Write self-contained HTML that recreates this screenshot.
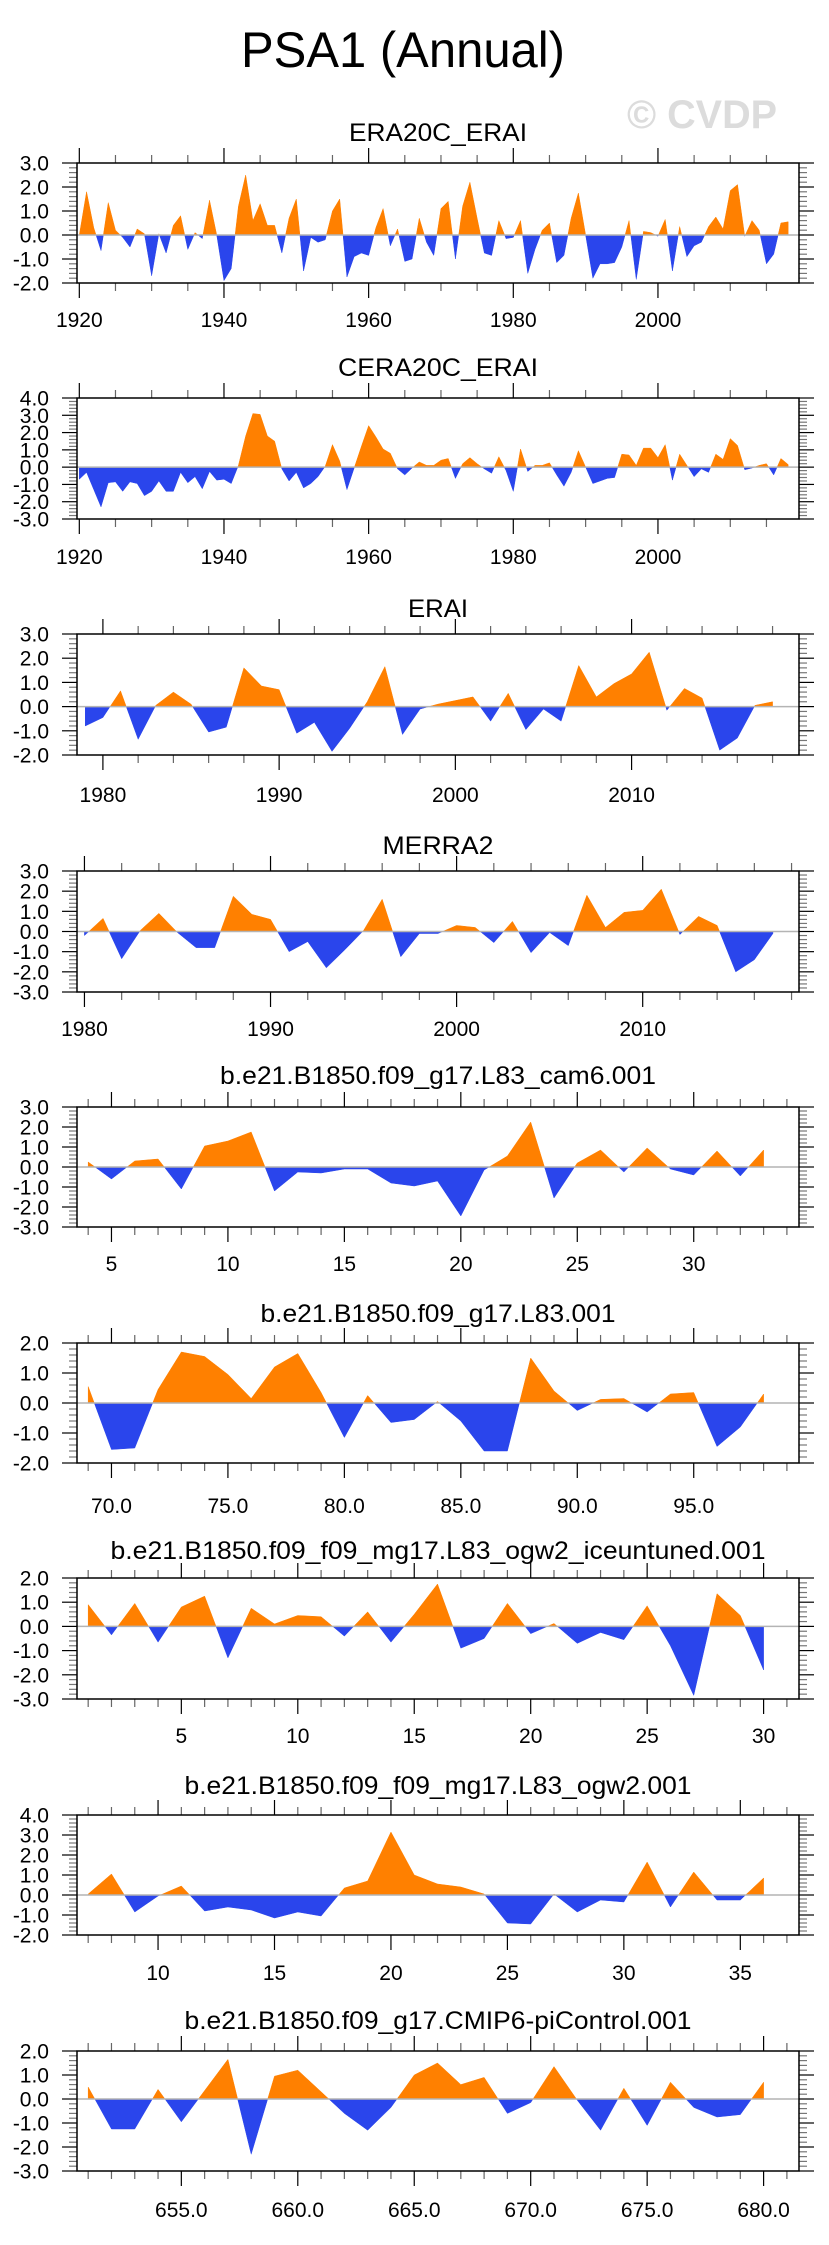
<!DOCTYPE html>
<html><head><meta charset="utf-8"><title>PSA1 (Annual)</title>
<style>
html,body{margin:0;padding:0;background:#fff;}
svg{display:block;font-family:"Liberation Sans",Arial,sans-serif;}
</style></head>
<body>
<svg id="fig" width="829" height="2245" viewBox="0 0 829 2245" xmlns="http://www.w3.org/2000/svg">
<text x="403" y="67" font-size="50" text-anchor="middle" textLength="324" lengthAdjust="spacingAndGlyphs" fill="#000">PSA1 (Annual)</text>
<text x="702" y="128" font-size="40" font-weight="bold" text-anchor="middle" textLength="150" lengthAdjust="spacingAndGlyphs" fill="#dcdcdc">© CVDP</text>
</svg>
<script>
// ---- data arrays ----
const era20cYears = [1920, 2018];
const era20cValues = [0.0,1.8,0.3,-0.65,1.35,0.2,-0.1,-0.5,0.25,0.05,-1.7,0.05,-0.75,0.4,0.8,-0.6,0.1,-0.15,1.45,0.0,-1.9,-1.4,1.2,2.5,0.6,1.3,0.4,0.4,-0.75,0.7,1.5,-1.5,-0.1,-0.3,-0.2,1.0,1.5,-1.75,-0.9,-0.75,-0.85,0.3,1.1,-0.45,0.25,-1.1,-1.0,0.7,-0.3,-0.85,1.1,1.4,-1.0,1.2,2.2,0.7,-0.75,-0.85,0.6,-0.15,-0.1,0.6,-1.6,-0.6,0.2,0.5,-1.15,-0.85,0.7,1.75,0.0,-1.8,-1.2,-1.2,-1.15,-0.5,0.6,-1.85,0.15,0.1,-0.05,0.65,-1.5,0.35,-0.9,-0.45,-0.3,0.35,0.75,0.25,1.85,2.1,-0.05,0.6,0.2,-1.2,-0.8,0.5,0.55];
const cera20cYears = [1920, 2018];
const cera20cValues = [-0.7,-0.3,-1.3,-2.3,-0.9,-0.85,-1.4,-0.85,-0.95,-1.65,-1.4,-0.8,-1.4,-1.4,-0.3,-0.9,-0.55,-1.25,-0.25,-0.75,-0.7,-0.95,0.1,1.8,3.1,3.05,1.8,1.5,-0.1,-0.8,-0.3,-1.2,-0.95,-0.55,0.05,1.3,0.35,-1.3,-0.05,1.2,2.4,1.75,1.05,0.8,-0.1,-0.45,-0.05,0.3,0.1,0.1,0.4,0.5,-0.65,0.2,0.55,0.2,-0.1,-0.35,0.6,-0.2,-1.4,1.05,-0.25,0.1,0.1,0.25,-0.45,-1.1,-0.3,0.95,0.0,-0.95,-0.8,-0.65,-0.6,0.75,0.7,0.1,1.1,1.1,0.55,1.3,-0.75,0.75,0.1,-0.55,-0.1,-0.3,0.75,0.45,1.65,1.25,-0.15,-0.05,0.1,0.2,-0.45,0.5,0.15];
const eraiYears = [1979, 2018];
const eraiValues = [-0.8,-0.45,0.65,-1.35,0.05,0.6,0.1,-1.05,-0.85,1.6,0.85,0.7,-1.1,-0.65,-1.85,-0.9,0.2,1.65,-1.15,-0.1,0.1,0.25,0.4,-0.6,0.55,-0.95,-0.1,-0.6,1.7,0.4,0.95,1.35,2.25,-0.15,0.75,0.35,-1.8,-1.3,0.05,0.2];
const merra2Years = [1980, 2017];
const merra2Values = [-0.2,0.65,-1.35,0.05,0.9,-0.05,-0.8,-0.8,1.75,0.85,0.6,-1.0,-0.5,-1.8,-0.9,0.05,1.6,-1.25,-0.1,-0.1,0.3,0.2,-0.55,0.5,-1.05,-0.05,-0.7,1.8,0.2,0.95,1.05,2.1,-0.15,0.75,0.3,-2.0,-1.4,-0.1];
const cam6Years = [4, 33];
const cam6Values = [0.25,-0.6,0.3,0.4,-1.1,1.05,1.3,1.75,-1.2,-0.25,-0.3,-0.1,-0.1,-0.8,-0.95,-0.7,-2.45,-0.15,0.55,2.25,-1.55,0.2,0.85,-0.25,0.95,-0.1,-0.4,0.8,-0.45,0.85];
const l83Years = [69, 98];
const l83Values = [0.55,-1.55,-1.5,0.45,1.7,1.55,0.95,0.15,1.2,1.65,0.35,-1.15,0.25,-0.65,-0.55,0.05,-0.6,-1.6,-1.6,1.5,0.4,-0.25,0.12,0.15,-0.3,0.3,0.35,-1.45,-0.8,0.3];
const iceYears = [1, 30];
const iceValues = [0.9,-0.35,0.95,-0.65,0.8,1.25,-1.3,0.75,0.1,0.45,0.4,-0.4,0.6,-0.65,0.5,1.75,-0.9,-0.5,0.95,-0.3,0.12,-0.7,-0.25,-0.55,0.85,-0.8,-2.85,1.35,0.45,-1.8];
const ogw2Years = [7, 36];
const ogw2Values = [0.05,1.05,-0.85,-0.05,0.45,-0.8,-0.6,-0.75,-1.15,-0.85,-1.05,0.35,0.7,3.15,1.0,0.55,0.4,0.05,-1.4,-1.45,0.05,-0.85,-0.25,-0.35,1.65,-0.6,1.15,-0.25,-0.25,0.85];
const pictlYears = [651, 680];
const pictlValues = [0.5,-1.25,-1.25,0.4,-0.95,0.35,1.65,-2.3,0.95,1.2,0.3,-0.6,-1.3,-0.35,1.0,1.5,0.6,0.9,-0.6,-0.15,1.35,-0.05,-1.3,0.45,-1.1,0.7,-0.35,-0.75,-0.65,0.7];

const titles = ["ERA20C_ERAI","CERA20C_ERAI","ERAI","MERRA2","b.e21.B1850.f09_g17.L83_cam6.001","b.e21.B1850.f09_g17.L83.001","b.e21.B1850.f09_f09_mg17.L83_ogw2_iceuntuned.001","b.e21.B1850.f09_f09_mg17.L83_ogw2.001","b.e21.B1850.f09_g17.CMIP6-piControl.001"];
const xLabelSets = [[1920,1940,1960,1980,2000],[1920,1940,1960,1980,2000],[1980,1990,2000,2010],[1980,1990,2000,2010],[5,10,15,20,25,30],[70,75,80,85,90,95],[5,10,15,20,25,30],[10,15,20,25,30,35],[655,660,665,670,675,680]];
const xLabelDecimals = [0,0,0,0,0,1,0,0,1];
const yRanges = [[-2,3],[-3,4],[-2,3],[-3,3],[-3,3],[-2,2],[-3,2],[-2,4],[-3,2]];

// ---- layout (pixel geometry, not data) ----
const W = "http://www.w3.org/2000/svg";
const svg = document.getElementById('fig');
const BL = 77, BR = 799;
const layout = [
 {top:163,bot:283,title:132,lab:326,xmin:1919.68,xmax:2019.5,minor:5},
 {top:398,bot:519,title:367,lab:563,xmin:1919.68,xmax:2019.5,minor:5},
 {top:634,bot:755,title:608,lab:801,xmin:1978.53,xmax:2019.5,minor:2},
 {top:871,bot:992,title:845,lab:1035,xmin:1979.6,xmax:2018.4,minor:2},
 {top:1107,bot:1227,title:1075,lab:1270,xmin:3.52,xmax:34.52,minor:1},
 {top:1343,bot:1463,title:1313,lab:1512,xmin:68.52,xmax:99.52,minor:1},
 {top:1578,bot:1699,title:1550,lab:1742,xmin:0.52,xmax:31.52,minor:1},
 {top:1815,bot:1935,title:1785,lab:1979,xmin:6.52,xmax:37.52,minor:1},
 {top:2051,bot:2171,title:2020,lab:2216,xmin:650.52,xmax:681.52,minor:1}
];
const titleLens = [178,200,60,111,436,355,655,507,507];
const series = [[era20cYears,era20cValues],[cera20cYears,cera20cValues],[eraiYears,eraiValues],[merra2Years,merra2Values],[cam6Years,cam6Values],[l83Years,l83Values],[iceYears,iceValues],[ogw2Years,ogw2Values],[pictlYears,pictlValues]];

function mk(tag, attrs, parent){
  const e = document.createElementNS(W, tag);
  for (const k in attrs) e.setAttribute(k, attrs[k]);
  (parent||svg).appendChild(e);
  return e;
}

layout.forEach((L, p) => {
  const g = mk('g', {});
  
  
  const ymin = yRanges[p][0], ymax = yRanges[p][1];
  const xs = v => BL + (v - L.xmin) / (L.xmax - L.xmin) * (BR - BL);
  const ys = v => L.bot - (v - ymin) / (ymax - ymin) * (L.bot - L.top);
  const yrs = series[p][0], vals = series[p][1];
  const x0 = yrs[0];
  const t = mk('text', {x:438, y:L.title+9, 'font-size':25, 'text-anchor':'middle', textLength:titleLens[p], lengthAdjust:'spacingAndGlyphs'}, g);
  t.textContent = titles[p];
  
  
  const z = ys(0);
  function flush(arr, color, name){
    if (arr.length < 2) return;
    const pts = arr.map(q => q[0].toFixed(2)+','+q[1].toFixed(2));
    pts.push(arr[arr.length-1][0].toFixed(2)+','+z.toFixed(2));
    pts.unshift(arr[0][0].toFixed(2)+','+z.toFixed(2));
    const pg = mk('polygon', {points:pts.join(' '), fill:color, stroke:color, 'stroke-width':0.5}, g);
    
    
  }
  let cur = [], sign = 0;
  for (let i = 0; i < vals.length; i++){
    const v = vals[i], X = xs(x0 + i), Y = ys(v);
    const s = v >= 0 ? 1 : -1;
    if (i > 0 && s !== sign){
      const pv = vals[i-1];
      const f = pv / (pv - v);
      const cx = xs(x0 + i - 1 + f);
      cur.push([cx, z]);
      flush(cur, sign > 0 ? '#ff8000' : '#2a45ec', sign > 0 ? 'positive-area' : 'negative-area');
      cur = [[cx, z]];
    }
    sign = s;
    cur.push([X, Y]);
  }
  flush(cur, sign > 0 ? '#ff8000' : '#2a45ec', sign > 0 ? 'positive-area' : 'negative-area');
  const zl = mk('line', {x1:BL, x2:BR, y1:z, y2:z, stroke:'#b4b4b4', 'stroke-width':1.5}, g);
  
  
  for (let v = ymin; v <= ymax + 1e-6; v += 0.2){
    const Y = ys(v);
    const major = Math.abs(v - Math.round(v)) < 1e-6;
    const len = major ? 15 : 8;
    const col = major ? '#000' : '#777';
    mk('line', {x1:BL-len, x2:BL, y1:Y, y2:Y, stroke:col, 'stroke-width':1.2}, g);
    mk('line', {x1:BR, x2:BR+len, y1:Y, y2:Y, stroke:col, 'stroke-width':1.2}, g);
    if (major){
      const lt = mk('text', {x:49, y:Y+7.5, 'font-size':21, 'text-anchor':'end'}, g);
      lt.textContent = Math.round(v).toFixed(1);
      
      
    }
  }
  const labs = xLabelSets[p];
  const step = L.minor;
  const start = Math.ceil(L.xmin / step) * step;
  for (let v = start; v <= L.xmax; v += step){
    const X = xs(v);
    const major = labs.indexOf(v) >= 0;
    const len = major ? 15 : 8;
    const col = major ? '#000' : '#666';
    mk('line', {x1:X, x2:X, y1:L.top-len, y2:L.top, stroke:col, 'stroke-width':1.2}, g);
    mk('line', {x1:X, x2:X, y1:L.bot, y2:L.bot+len, stroke:col, 'stroke-width':1.2}, g);
  }
  labs.forEach(v => {
    const xt = mk('text', {x:xs(v), y:L.lab+1, 'font-size':21, 'text-anchor':'middle'}, g);
    xt.textContent = v.toFixed(xLabelDecimals[p]);
    
    
  });
  const bx = mk('rect', {x:BL, y:L.top, width:BR-BL, height:L.bot-L.top, fill:'none', stroke:'#000', 'stroke-width':1.5}, g);
  
  
});
</script>
</body></html>
